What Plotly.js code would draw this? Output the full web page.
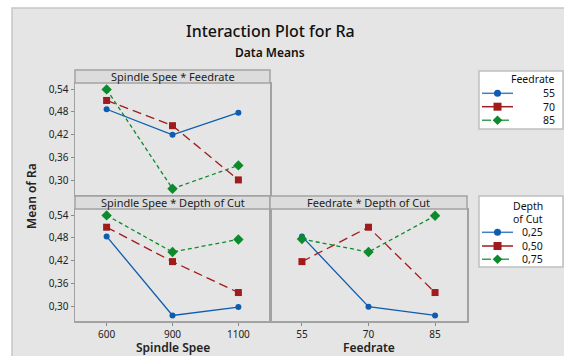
<!DOCTYPE html>
<html>
<head>
<meta charset="utf-8">
<script src="https://cdn.plot.ly/plotly-3.0.1.min.js"></script>
<style>html,body{margin:0;padding:0;background:#fff;}#chart{width:564px;height:356px;}</style>
</head>
<body>
<div id="chart"></div>
<script>
// ---- data ----
const spindleCats = ["600", "900", "1100"];
const feedCats = ["55", "70", "85"];
const feedLevels = ["55", "70", "85"];
const depthLevels = ["0,25", "0,50", "0,75"];

// Spindle Spee * Feedrate (mean Ra)
const sf_55 = [0.487, 0.420, 0.478];
const sf_70 = [0.510, 0.444, 0.302];
const sf_85 = [0.539, 0.279, 0.340];

// Spindle Spee * Depth of Cut
const sd_025 = [0.484, 0.277, 0.299];
const sd_050 = [0.508, 0.418, 0.337];
const sd_075 = [0.539, 0.443, 0.476];

// Feedrate * Depth of Cut
const fd_025 = [0.484, 0.300, 0.277];
const fd_050 = [0.418, 0.508, 0.337];
const fd_075 = [0.477, 0.443, 0.538];

const yTickVals = [0.30, 0.36, 0.42, 0.48, 0.54];
const yTickText = ["0,30", "0,36", "0,42", "0,48", "0,54"];

// ---- styles ----
const colors = ["#0d5cb0", "#a01b1b", "#0c8a2c"];
const legLineColors = ["#3f7fc4", "#a01b1b", "#3aa055"];
const dashes = ["solid", "9px,5px", "4px,3px"];
const legDashes = ["solid", "solid", "dash"];
const symbols = ["circle", "square", "diamond"];
const msizes = [6, 7, 8];
const FONT = "Noto Sans, Open Sans, sans-serif";

function tr(xs, ys, i, name, xa, ya) {
  return {
    type: "scatter", mode: "lines+markers", x: xs, y: ys, name: name,
    xaxis: xa, yaxis: ya, showlegend: false,
    line: {color: colors[i], width: 1.3, dash: dashes[i]},
    marker: {color: colors[i], symbol: symbols[i], size: msizes[i]},
    hoverinfo: "skip"
  };
}

const sfSeries = [sf_55, sf_70, sf_85];
const sdSeries = [sd_025, sd_050, sd_075];
const fdSeries = [fd_025, fd_050, fd_075];
const data = [];
sfSeries.forEach((s, i) => data.push(tr(spindleCats, s, i, feedLevels[i], "x", "y")));
sdSeries.forEach((s, i) => data.push(tr(spindleCats, s, i, depthLevels[i], "x2", "y2")));
fdSeries.forEach((s, i) => data.push(tr(feedCats, s, i, depthLevels[i], "x3", "y3")));

const W = 564, H = 356;
const px = v => v / W, py = v => 1 - v / H;
const leftDom = [px(75), px(270)];
const rightDom = [px(270), px(467)];
const topDom = [py(195), py(83)];
const botDom = [py(321), py(209)];
const axisCol = "#a2a2a2";
const tickFont = {family: FONT, size: 10, color: "#222"};

function xax(dom, anchor, showLabels) {
  return {
    domain: dom, anchor: anchor, type: "category", range: [-0.48, 2.48],
    showgrid: false, zeroline: false, showline: true, mirror: true,
    linecolor: axisCol, linewidth: 1.5,
    ticks: showLabels ? "outside" : "", ticklen: 3, tickcolor: "#888",
    showticklabels: showLabels, tickfont: tickFont, fixedrange: true
  };
}
function yax(dom, anchor, showLabels) {
  return {
    domain: dom, anchor: anchor, range: [0.2625, 0.5557],
    showgrid: false, zeroline: false, showline: true, mirror: true,
    linecolor: axisCol, linewidth: 1.5,
    tickvals: yTickVals, ticktext: yTickText,
    ticks: showLabels ? "outside" : "", ticklen: 3, tickcolor: "#888",
    showticklabels: showLabels, tickfont: tickFont, fixedrange: true
  };
}

const shapes = [
  // outer frame
  {type: "rect", xref: "paper", yref: "paper", x0: px(12), x1: px(570), y0: py(362), y1: py(8),
   fillcolor: "#e5e5e5", line: {color: "#c6c6c6", width: 1.5}, layer: "below"},
  // strips
  {type: "rect", xref: "paper", yref: "paper", x0: leftDom[0], x1: leftDom[1], y0: py(83), y1: py(70),
   fillcolor: "#dcdcdc", line: {color: axisCol, width: 1.5}},
  {type: "rect", xref: "paper", yref: "paper", x0: leftDom[0], x1: leftDom[1], y0: py(209), y1: py(196),
   fillcolor: "#dcdcdc", line: {color: axisCol, width: 1.5}},
  {type: "rect", xref: "paper", yref: "paper", x0: rightDom[0], x1: rightDom[1], y0: py(209), y1: py(196),
   fillcolor: "#dcdcdc", line: {color: axisCol, width: 1.5}}
];

const stripFont = {family: FONT, size: 11, color: "#222"};
const boldFont = {family: FONT, size: 12, color: "#222", weight: 600};
const annotations = [
  {text: "Interaction Plot for Ra", xref: "paper", yref: "paper", x: px(270), y: py(31), showarrow: false,
   font: {family: FONT, size: 16, color: "#111", weight: 500}, xanchor: "center", yanchor: "middle"},
  {text: "Data Means", xref: "paper", yref: "paper", x: px(270), y: py(52), showarrow: false,
   font: {family: FONT, size: 12, color: "#111", weight: 600}, xanchor: "center", yanchor: "middle"},
  {text: "Spindle Spee * Feedrate", xref: "paper", yref: "paper", x: (leftDom[0] + leftDom[1]) / 2, y: py(76.5),
   showarrow: false, font: stripFont, xanchor: "center", yanchor: "middle"},
  {text: "Spindle Spee * Depth of Cut", xref: "paper", yref: "paper", x: (leftDom[0] + leftDom[1]) / 2, y: py(202.5),
   showarrow: false, font: stripFont, xanchor: "center", yanchor: "middle"},
  {text: "Feedrate * Depth of Cut", xref: "paper", yref: "paper", x: (rightDom[0] + rightDom[1]) / 2, y: py(202.5),
   showarrow: false, font: stripFont, xanchor: "center", yanchor: "middle"},
  {text: "Spindle Spee", xref: "paper", yref: "paper", x: (leftDom[0] + leftDom[1]) / 2, y: py(347),
   showarrow: false, font: boldFont, xanchor: "center", yanchor: "middle"},
  {text: "Feedrate", xref: "paper", yref: "paper", x: (rightDom[0] + rightDom[1]) / 2, y: py(347),
   showarrow: false, font: boldFont, xanchor: "center", yanchor: "middle"},
  {text: "Mean of Ra", xref: "paper", yref: "paper", x: px(31), y: py(196), textangle: -90,
   showarrow: false, font: boldFont, xanchor: "center", yanchor: "middle"}
];

// ---- manual legends (box, title, sample line + marker, label) ----
const legFont = {family: FONT, size: 10.5, color: "#111"};
function addLegend(box, titleLines, titleY, textRight, rowsY, labels) {
  shapes.push({type: "rect", xref: "paper", yref: "paper", x0: px(box[0]), x1: px(box[1]),
    y0: py(box[3]), y1: py(box[2]), fillcolor: "#ffffff", line: {color: "#c0c0c0", width: 1.5}});
  titleLines.forEach((t, k) => annotations.push({text: t, xref: "paper", yref: "paper",
    x: px(textRight), y: py(titleY[k]), showarrow: false, font: legFont, xanchor: "right", yanchor: "middle"}));
  labels.forEach((lab, i) => {
    const yy = py(rowsY[i]);
    shapes.push({type: "line", xref: "paper", yref: "paper", x0: px(482), x1: px(513), y0: yy, y1: yy,
      line: {color: legLineColors[i], width: 1.5, dash: legDashes[i]}});
    const cx = 497.5, cy = rowsY[i];
    if (symbols[i] === "circle") {
      shapes.push({type: "circle", xref: "paper", yref: "paper", x0: px(cx - 3.5), x1: px(cx + 3.5),
        y0: py(cy + 3.5), y1: py(cy - 3.5), fillcolor: colors[i], line: {width: 0}});
    } else if (symbols[i] === "square") {
      shapes.push({type: "rect", xref: "paper", yref: "paper", x0: px(cx - 4), x1: px(cx + 4),
        y0: py(cy + 4), y1: py(cy - 4), fillcolor: colors[i], line: {width: 0}});
    } else {
      const d = 4.8;
      shapes.push({type: "path", xref: "paper", yref: "paper",
        path: "M " + px(cx) + "," + py(cy - d) + " L " + px(cx + d) + "," + py(cy) + " L " + px(cx) + "," +
          py(cy + d) + " L " + px(cx - d) + "," + py(cy) + " Z",
        fillcolor: colors[i], line: {width: 0}});
    }
    annotations.push({text: lab, xref: "paper", yref: "paper", x: px(textRight), y: yy, showarrow: false,
      font: legFont, xanchor: "right", yanchor: "middle"});
  });
}
addLegend([479, 563, 71, 129], ["Feedrate"], [79.5], 557, [93.3, 106.7, 120.3], feedLevels);
addLegend([479, 563, 196, 267], ["Depth", "of Cut"], [205.7, 219.3], 545, [232.3, 246, 259.3], depthLevels);

const layout = {
  width: W, height: H,
  margin: {l: 0, r: 0, t: 0, b: 0},
  paper_bgcolor: "#ffffff", plot_bgcolor: "#dedede",
  xaxis: xax(leftDom, "y", false),
  yaxis: yax(topDom, "x", true),
  xaxis2: xax(leftDom, "y2", true),
  yaxis2: yax(botDom, "x2", true),
  xaxis3: xax(rightDom, "y3", true),
  yaxis3: yax(botDom, "x3", false),
  shapes: shapes,
  annotations: annotations,
  showlegend: false
};

Plotly.newPlot("chart", data, layout, {staticPlot: true, displayModeBar: false});
</script>
</body>
</html>
